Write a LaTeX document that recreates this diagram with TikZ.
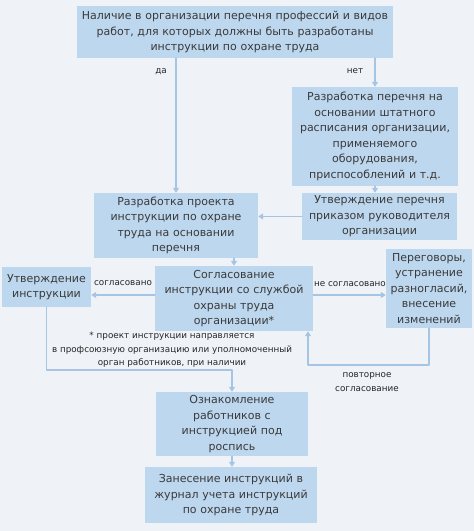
\documentclass[tikz,border=0pt]{standalone}
\usepackage{fontspec}
\setmainfont{DejaVu Sans}
\usetikzlibrary{arrows.meta,calc}
\definecolor{bgfill}{RGB}{239,243,248}
\definecolor{boxfill}{RGB}{189,215,238}
\definecolor{linkblue}{RGB}{166,197,228}
\definecolor{boxtext}{RGB}{58,58,58}

\begin{document}
\begin{tikzpicture}[x=1pt,y=-1pt,line cap=round,line join=round,
  box/.style={fill=boxfill,inner sep=0pt,align=center,text=boxtext,font=\fontsize{11}{15.5}\selectfont},
  lbl/.style={inner sep=0pt,align=center,text=black!85,font=\fontsize{8.8}{13.5}\selectfont},
  arr/.style={draw=linkblue,line width=1.6pt,-{Triangle[width=6pt,length=5pt]}}]
  \fill[bgfill] (0,0) rectangle (474,531);
  \useasboundingbox (0,0) rectangle (474,531);

  \node[box,text width=316pt,minimum height=52pt] (top) at (235,32) {Наличие в организации перечня профессий и видов\\работ, для которых должны быть разработаны\\инструкции по охране труда};
  \node[box,text width=166pt,minimum height=99pt] (rone) at (375,136.5) {Разработка перечня на\\основании штатного\\расписания организации,\\применяемого\\оборудования,\\приспособлений и т.д.};
  \node[box,text width=155pt,minimum height=47pt] (rtwo) at (379.5,216.5) {Утверждение перечня\\приказом руководителя\\организации};
  \node[box,text width=164pt,minimum height=65pt] (proj) at (176,225.5) {Разработка проекта\\инструкции по охране\\труда на основании\\перечня};
  \node[box,text width=158pt,minimum height=65pt] (agree) at (234,298.5) {Согласование\\инструкции со службой\\охраны труда\\организации*};
  \node[box,text width=89pt,minimum height=40pt] (approve) at (46.5,287) {Утверждение\\инструкции};
  \node[box,text width=86pt,minimum height=79pt] (talks) at (429,288.5) {Переговоры,\\устранение\\разногласий,\\внесение\\изменений};
  \node[box,text width=152pt,minimum height=64pt] (famil) at (232,424) {Ознакомление\\работников с\\инструкцией под\\роспись};
  \node[box,text width=172pt,minimum height=56pt] (journal) at (231,495) {Занесение инструкций в\\журнал учета инструкций\\по охране труда};

  \coordinate (mid) at (234,295);
  \coordinate (back) at (308,365);
  \coordinate (bend) at (232,370);

  \draw[arr] (top.south -| proj.north) -- (proj.north);
  \draw[arr] (top.south -| rone.north) -- (rone.north);
  \draw[arr] (rone.south) -- (rone.south |- rtwo.north);
  \draw[arr] (rtwo.west) -- (rtwo.west -| proj.east);
  \draw[arr] (agree.north |- proj.south) -- (agree.north);
  \draw[arr] (mid -| agree.west) -- (mid -| approve.east);
  \draw[arr] (mid -| agree.east) -- (mid -| talks.west);
  \draw[arr] (talks.south) |- (back) -- (back |- agree.south);
  \draw[arr] (approve.south) |- (bend) -- (famil.north);
  \draw[arr] (famil.south) -- (famil.south |- journal.north);

  \node[lbl] (yes) at (161,72) {да};
  \node[lbl] (no) at (355,71) {нет};
  \node[lbl] (ok) at (123,283) {согласовано};
  \node[lbl] (notok) at (350,284) {не согласовано};
  \node[lbl] (again) at (367,382) {повторное\\согласование};
  \node[lbl] (note) at (172,350) {* проект инструкции направляется\\в профсоюзную организацию или уполномоченный\\орган работников, при наличии};
\end{tikzpicture}
\end{document}
